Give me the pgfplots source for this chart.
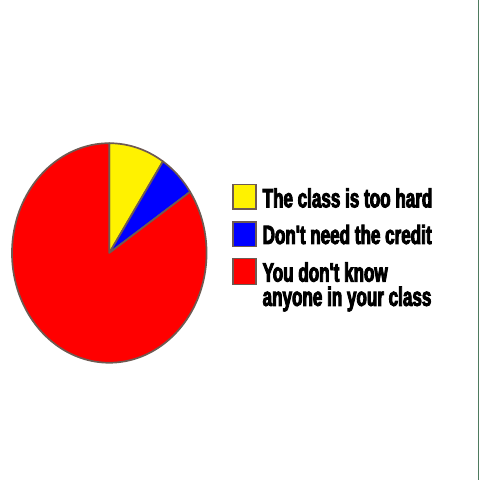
\documentclass[border=0pt]{standalone}
\usepackage{pgfplots}
\pgfplotsset{compat=1.18}
\usepackage{fontspec}
\newfontfamily\legfont{Liberation Sans}[BoldFont={Liberation Sans Bold},BoldFeatures={FakeStretch=0.645,FakeBold=3.4}]
\definecolor{edge}{HTML}{6E5A52}
\definecolor{rim}{HTML}{4E7A5E}
\begin{document}
\begin{tikzpicture}
% slice shares (percent)
\def\va{9.3}\def\vb{6.3}\def\vc{84.4}
\pgfmathsetmacro\aa{90}
\pgfmathsetmacro\ab{90-3.6*\va}
\pgfmathsetmacro\ac{\ab-3.6*\vb}
\pgfmathsetmacro\ad{\ac-3.6*\vc}
\begin{axis}[width=480pt,height=480pt,scale only axis,
  xmin=0,xmax=480,ymin=0,ymax=480,y dir=reverse,
  hide axis,clip=false]
\path (axis cs:0,0) rectangle (axis cs:480,480);
\addplot[draw=edge,line width=1.7pt,line join=round,fill=yellow,domain=\aa:\ab,samples=40,smooth]
  ({109.5+97.5*cos(x)},{253-110*sin(x)}) -- (axis cs:109.5,253) -- cycle;
\addplot[draw=edge,line width=1.7pt,line join=round,fill=blue,domain=\ab:\ac,samples=40,smooth]
  ({109.5+97.5*cos(x)},{253-110*sin(x)}) -- (axis cs:109.5,253) -- cycle;
\addplot[draw=edge,line width=1.7pt,line join=round,fill=red,domain=\ac:\ad,samples=150,smooth]
  ({109.5+97.5*cos(x)},{253-110*sin(x)}) -- (axis cs:109.5,253) -- cycle;
% legend
\addplot[draw=edge,line width=1.3pt,fill=yellow] coordinates {(233.5,184.5)(256.5,184.5)(256.5,209)(233.5,209)} -- cycle;
\addplot[draw=edge,line width=1.3pt,fill=blue] coordinates {(233.5,222)(256.5,222)(256.5,246.5)(233.5,246.5)} -- cycle;
\addplot[draw=edge,line width=1.3pt,fill=red] coordinates {(233.5,258.5)(256.5,258.5)(256.5,284.5)(233.5,284.5)} -- cycle;
\node[anchor=base west,inner sep=0pt,font=\legfont\bfseries\fontsize{26.5}{24.5}\selectfont] at (axis cs:263,207.3) {The class is too hard};
\node[anchor=base west,inner sep=0pt,font=\legfont\bfseries\fontsize{26.5}{24.5}\selectfont] at (axis cs:263,244) {Don't need the credit};
\node[anchor=base west,inner sep=0pt,font=\legfont\bfseries\fontsize{26.5}{24.5}\selectfont] at (axis cs:263,281.7) {You don't know};
\node[anchor=base west,inner sep=0pt,font=\legfont\bfseries\fontsize{26.5}{24.5}\selectfont] at (axis cs:263,306) {anyone in your class};
\addplot[draw=rim,line width=1pt] coordinates {(479.3,0)(479.3,480)};
\end{axis}
\end{tikzpicture}
\end{document}
